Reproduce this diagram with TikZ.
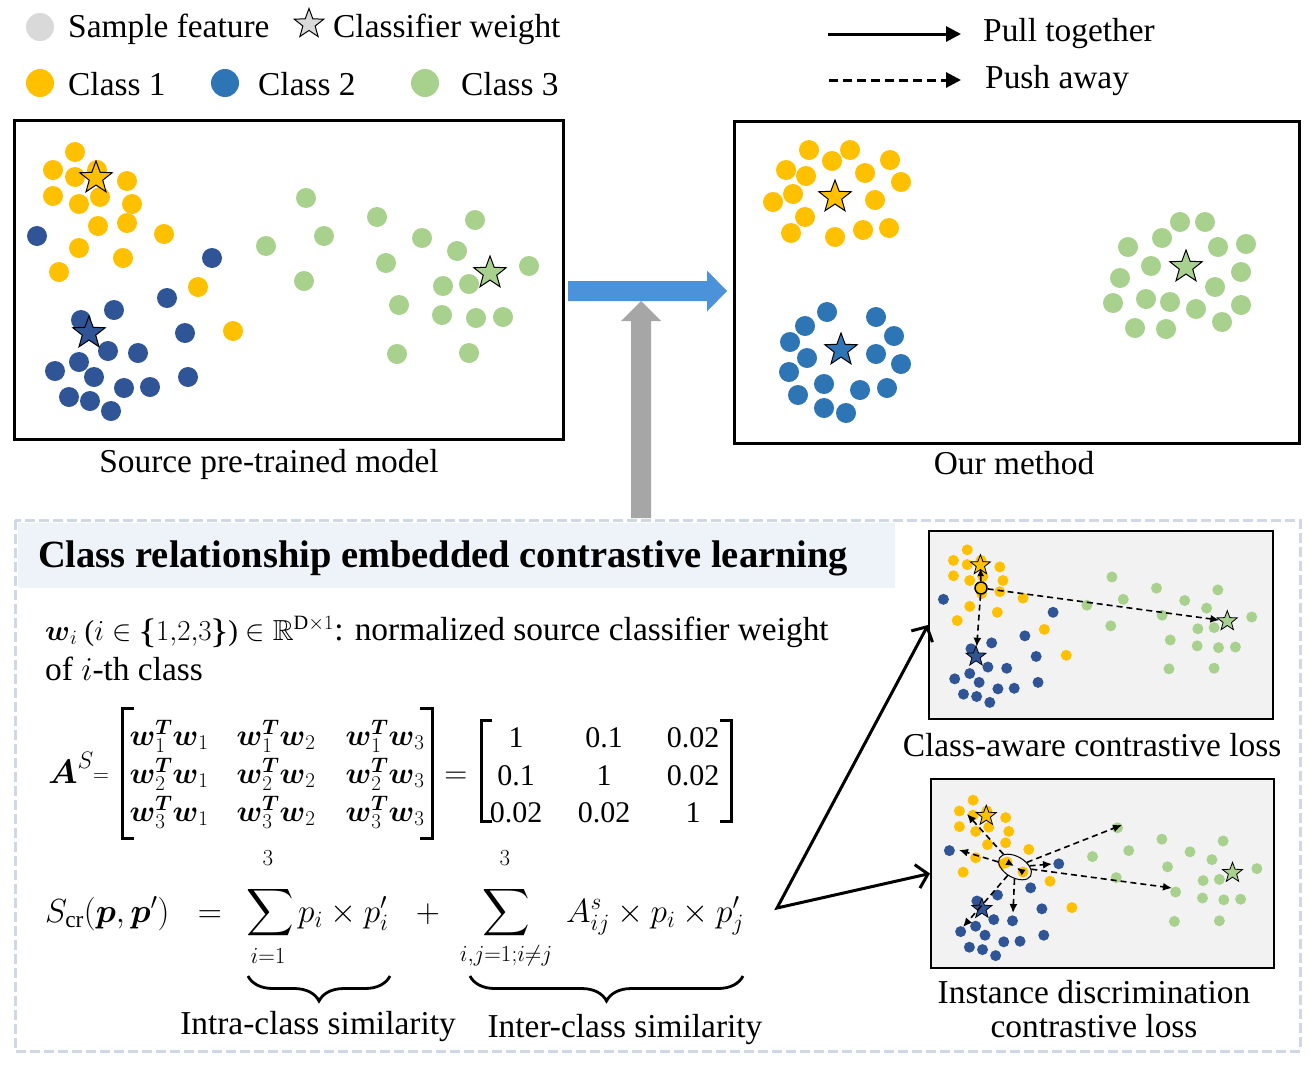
\RequirePackage{fix-cm}
\documentclass[tikz,border=0pt]{standalone}
\usepackage{amsmath,amssymb}
\usepackage{fontspec}
\setmainfont{Liberation Serif}
\usetikzlibrary{shapes.geometric,arrows.meta,decorations.pathreplacing}
\definecolor{cyel}{HTML}{FFC000}
\definecolor{cdblue}{HTML}{2F5597}
\definecolor{cblue}{HTML}{2E75B6}
\definecolor{cgreen}{HTML}{A9D18E}
\definecolor{cgray}{HTML}{D9D9D9}
\definecolor{cpanel}{HTML}{F2F2F2}
\definecolor{cband}{HTML}{EEF3F9}
\definecolor{cdash}{HTML}{CFD8E4}
\definecolor{carrowblue}{HTML}{4B92DB}
\definecolor{carrowgray}{HTML}{A6A6A6}
\tikzset{
  txt/.style={font=\fontsize{33.4}{40}\selectfont, inner sep=0pt},
  mtx/.style={font=\fontsize{30}{36}\selectfont, inner sep=0pt, anchor=base},
  lim/.style={font=\fontsize{23}{27}\selectfont, inner sep=0pt},
  bigdot/.style={circle, inner sep=0pt, minimum size=20pt, draw=none},
  smalldot/.style={circle, inner sep=0pt, minimum size=11pt, draw=none},
  bigstar/.style={star, star points=5, star point ratio=2.4, inner sep=0pt, minimum size=34pt, draw=black, line width=1pt},
  smallstar/.style={star, star points=5, star point ratio=2.4, inner sep=0pt, minimum size=21pt, draw=black, line width=0.8pt},
  frame/.style={draw=black, line width=3pt, fill=white, inner sep=0pt},
  panel/.style={draw=black, line width=2pt, fill=cpanel, inner sep=0pt},
  pullar/.style={line width=3pt, -{Triangle[length=15pt,width=15pt]}},
  pushar/.style={line width=3pt, dash pattern=on 9pt off 5pt, -{Triangle[length=15pt,width=15pt]}},
  pullsm/.style={line width=1.6pt, -{Latex[length=8pt,width=7pt]}},
  pushsm/.style={line width=1.6pt, dash pattern=on 6pt off 4pt, -{Latex[length=9pt,width=8pt]}},
  bracket/.style={line width=3pt},
  bracestyle/.style={line width=2.8pt, decorate, decoration={brace, mirror, amplitude=25pt}},
}
\newcommand\featcloud{%
  \foreach \x/\y [count=\i] in {75/152,53/170,75/177,97/170,127/181,53/196,79/204,100/197,132/204,98/226,127/223,164/234,79/248,123/258,59/272,198/287,233/331}
    {\node[k1] (y\i) at (\x,\y) {};}
  \foreach \x/\y [count=\i] in {37/236,212/258,167/298,114/310,81/320,185/333,108/351,138/353,79/362,55/371,94/377,188/377,124/388,150/387,69/397,90/401,111/411}
    {\node[k2] (b\i) at (\x,\y) {};}
  \foreach \x/\y [count=\i] in {306/198,377/217,475/220,324/236,266/246,422/238,457/251,386/263,529/266,304/281,443/286,469/284,399/305,442/315,476/318,503/317,397/354,469/353}
    {\node[k3] (g\i) at (\x,\y) {};}
  \node[q1] (wy) at (96,178) {};
  \node[q2] (wb) at (89,333) {};
  \node[q3] (wg) at (490,273) {};
}
\begin{document}
\begin{tikzpicture}[x=1pt,y=-1pt]
\useasboundingbox (0,0) rectangle (1311,1068);
\fill[white] (0,0) rectangle (1311,1068);

% ---------- legend ----------
\node[circle, fill=cgray, minimum size=28pt, inner sep=0pt] (lg0) at (40,27) {};
\node[txt, anchor=base west] (lgt0) at (68,37) {Sample feature};
\node[star, star points=5, star point ratio=2.4, inner sep=0pt, minimum size=31pt, draw=black, line width=1pt, fill=cgray] (lgs) at (309,24) {};
\node[txt, anchor=base west] (lgts) at (333,37) {Classifier weight};
\node[circle, fill=cyel, minimum size=28pt, inner sep=0pt] (lg1) at (40,83) {};
\node[txt, anchor=base west] (lgt1) at (68,95) {Class 1};
\node[circle, fill=cblue, minimum size=28pt, inner sep=0pt] (lg2) at (225,83) {};
\node[txt, anchor=base west] (lgt2) at (258,95) {Class 2};
\node[circle, fill=cgreen, minimum size=28pt, inner sep=0pt] (lg3) at (425,83) {};
\node[txt, anchor=base west] (lgt3) at (461,95) {Class 3};
\coordinate (pa1) at (828,34);
\coordinate (pa2) at (961,34);
\draw[pullar] (pa1) -- (pa2);
\node[txt, anchor=base west] (lgpull) at (983,41) {Pull together};
\coordinate (pb1) at (829,80);
\coordinate (pb2) at (961,80);
\draw[pushar] (pb1) -- (pb2);
\node[txt, anchor=base west] (lgpush) at (985,88) {Push away};

% ---------- top boxes ----------
\node[frame, minimum width=549pt, minimum height=319pt] (src) at (288.5,279.5) {};
\node[frame, minimum width=565pt, minimum height=322pt] (ours) at (1016.5,282) {};
\node[txt, anchor=base] (srccap) at (269,472) {Source pre-trained model};
\node[txt, anchor=base] (ourcap) at (1014,474) {Our method};

\begin{scope}[name prefix=L-,
  k1/.style={bigdot,fill=cyel}, k2/.style={bigdot,fill=cdblue}, k3/.style={bigdot,fill=cgreen},
  q1/.style={bigstar,fill=cyel}, q2/.style={bigstar,fill=cdblue}, q3/.style={bigstar,fill=cgreen}]
  \featcloud
\end{scope}

% right box clusters
\foreach \x/\y [count=\i] in {809/150,850/150,786/170,832/161,890/160,806/176,865/173,901/182,793/194,875/200,773/202,805/217,791/233,835/237,863/230,889/228}
  {\node[bigdot, fill=cyel] (R-y\i) at (\x,\y) {};}
\foreach \x/\y [count=\i] in {827/312,876/317,805/326,894/336,790/342,807/358,876/354,789/372,901/364,824/384,798/395,860/390,887/388,824/408,846/413}
  {\node[bigdot, fill=cblue] (R-b\i) at (\x,\y) {};}
\foreach \x/\y [count=\i] in {1180/222,1205/222,1162/238,1128/247,1218/247,1246/244,1151/266,1241/272,1120/278,1215/287,1113/303,1146/299,1170/302,1196/309,1241/305,1135/328,1166/329,1222/322}
  {\node[bigdot, fill=cgreen] (R-g\i) at (\x,\y) {};}
\node[bigstar, fill=cyel] (R-wy) at (835,197) {};
\node[bigstar, fill=cblue] (R-wb) at (841,350) {};
\node[bigstar, fill=cgreen] (R-wg) at (1186,267) {};

% big arrows
\fill[carrowblue] (568,281) -- (707,281) -- (707,270.5) -- (727,291) -- (707,311.5) -- (707,301) -- (568,301) -- cycle;

% ---------- lower panel ----------
\draw[cdash, line width=3pt, dash pattern=on 10pt off 4pt] (15,520) rectangle (1300,1051);
\fill[cband] (18,523) rectangle (895,588);
\fill[carrowgray] (631,518) -- (631,321) -- (621,321) -- (641,301) -- (661,321) -- (651,321) -- (651,518) -- cycle;

\node[anchor=base west, inner sep=0pt, font=\fontsize{38.5}{44}\selectfont\bfseries] (title) at (38,567) {Class relationship embedded contrastive learning};

\node[anchor=base west, inner sep=0pt, font=\fontsize{29}{34}\selectfont] (wdefm) at (45,640) {$\boldsymbol{w}_i$ ($i\in\boldsymbol{\{}1{,}2{,}3\boldsymbol{\}}$) $\in\mathbb{R}^{\mathrm{D}\times 1}$};
\node[txt, anchor=base west] (wdeft) at (wdefm.base east) {: normalized source classifier weight};
\node[txt, anchor=base west] (wdef2) at (45,680) {of $i$-th class};

% matrix A^S
\node[anchor=base, inner sep=0pt, font=\fontsize{34}{40}\selectfont] (As) at (71,783) {$\boldsymbol{A}^{S}$};
\node[anchor=base, inner sep=0pt, font=\fontsize{22}{26}\selectfont] (eqa) at (101,781) {$=$};
\draw[bracket] (134,708) -- (122,708) -- (122,838) -- (134,838);
\draw[bracket] (420,708) -- (432,708) -- (432,838) -- (420,838);
\node[mtx] (m11) at (169,745) {$\boldsymbol{w}_1^{\boldsymbol{T}}\boldsymbol{w}_1$};
\node[mtx] (m12) at (276,745) {$\boldsymbol{w}_1^{\boldsymbol{T}}\boldsymbol{w}_2$};
\node[mtx] (m13) at (385,745) {$\boldsymbol{w}_1^{\boldsymbol{T}}\boldsymbol{w}_3$};
\node[mtx] (m21) at (169,783) {$\boldsymbol{w}_2^{\boldsymbol{T}}\boldsymbol{w}_1$};
\node[mtx] (m22) at (276,783) {$\boldsymbol{w}_2^{\boldsymbol{T}}\boldsymbol{w}_2$};
\node[mtx] (m23) at (385,783) {$\boldsymbol{w}_2^{\boldsymbol{T}}\boldsymbol{w}_3$};
\node[mtx] (m31) at (169,821) {$\boldsymbol{w}_3^{\boldsymbol{T}}\boldsymbol{w}_1$};
\node[mtx] (m32) at (276,821) {$\boldsymbol{w}_3^{\boldsymbol{T}}\boldsymbol{w}_2$};
\node[mtx] (m33) at (385,821) {$\boldsymbol{w}_3^{\boldsymbol{T}}\boldsymbol{w}_3$};
\node[anchor=base, inner sep=0pt, font=\fontsize{32}{38}\selectfont] (eqb) at (456,783) {$=$};
\draw[bracket] (492,720) -- (481,720) -- (481,821) -- (492,821);
\draw[bracket] (720,720) -- (731,720) -- (731,821) -- (720,821);
\node[mtx] (n11) at (516,747) {1};
\node[mtx] (n12) at (604,747) {0.1};
\node[mtx] (n13) at (693,747) {0.02};
\node[mtx] (n21) at (516,785) {0.1};
\node[mtx] (n22) at (604,785) {1};
\node[mtx] (n23) at (693,785) {0.02};
\node[mtx] (n31) at (516,822) {0.02};
\node[mtx] (n32) at (604,822) {0.02};
\node[mtx] (n33) at (693,822) {1};

% S_cr formula
\node[txt, anchor=base west] (scr) at (45,922) {$S_{\mathrm{cr}}(\boldsymbol{p},\boldsymbol{p}')$};
\node[txt, anchor=base] (eqc) at (210,922) {$=$};
\node[inner sep=0pt, font=\fontsize{33}{38}\selectfont] (sig1) at (270,913) {$\displaystyle\sum$};
\node[lim] (sig1u) at (268,858) {$3$};
\node[lim] (sig1l) at (268,956) {$i{=}1$};
\node[txt, anchor=base west] (t1) at (298,922) {$p_i\times p'_i$};
\node[txt, anchor=base] (plus) at (428,922) {$+$};
\node[inner sep=0pt, font=\fontsize{33}{38}\selectfont] (sig2) at (506,913) {$\displaystyle\sum$};
\node[lim] (sig2u) at (505,858) {$3$};
\node[lim] (sig2l) at (506,956) {$i,\!j{=}1;\!i{\neq}j$};
\node[txt, anchor=base west] (t2) at (566,922) {$A^{s}_{ij}\times p_i\times p'_j$};

\coordinate (br1a) at (248,976);
\coordinate (br1b) at (390,976);
\coordinate (br2a) at (470,976);
\coordinate (br2b) at (743,976);
\draw[bracestyle] (br1a) -- (br1b);
\draw[bracestyle] (br2a) -- (br2b);
\node[txt, anchor=base] (intra) at (318,1034) {Intra-class similarity};
\node[txt, anchor=base] (inter) at (625,1037) {Inter-class similarity};

% small panels
\node[panel, minimum width=344pt, minimum height=188pt] (boxA) at (1101,625) {};
\node[panel, minimum width=343pt, minimum height=189pt] (boxB) at (1102.5,873.5) {};
\node[txt, anchor=base] (capA) at (1092,756) {Class-aware contrastive loss};
\node[txt, anchor=base] (capB1) at (1094,1003) {Instance discrimination};
\node[txt, anchor=base] (capB2) at (1094,1037) {contrastive loss};

\begin{scope}[name prefix=A-, shift={(929,531)}, xscale=0.6266, yscale=0.589, shift={(-14,-120)},
  k1/.style={smalldot,fill=cyel}, k2/.style={smalldot,fill=cdblue}, k3/.style={smalldot,fill=cgreen},
  q1/.style={smallstar,fill=cyel}, q2/.style={smallstar,fill=cdblue}, q3/.style={smallstar,fill=cgreen}]
  \featcloud
\end{scope}
\begin{scope}[name prefix=B-, shift={(935,781)}, xscale=0.625, yscale=0.6, shift={(-14,-120)},
  k1/.style={smalldot,fill=cyel}, k2/.style={smalldot,fill=cdblue}, k3/.style={smalldot,fill=cgreen},
  q1/.style={smallstar,fill=cyel}, q2/.style={smallstar,fill=cdblue}, q3/.style={smallstar,fill=cgreen}]
  \featcloud
\end{scope}

% class-aware arrows
\node[circle, draw=black, line width=1.5pt, fill=cyel, minimum size=12pt, inner sep=0pt] (anc) at (981,588) {};
\draw[pullsm, shorten >=3pt] (anc) -- (A-wy.center);
\draw[pushsm] (anc) -- (A-wb);
\draw[pushsm] (anc) -- (A-wg);

% instance discrimination arrows
\node[smalldot, fill=cyel] (e1) at (1007,862) {};
\node[smalldot, fill=cyel] (e2) at (1023,872) {};
\node[draw=black, ellipse, rotate=-30, minimum width=36pt, minimum height=21pt, inner sep=0pt, line width=1pt] (ell) at (1015,867) {};
\coordinate (m1) at (1014,866);
\coordinate (m2) at (1017,868);
\draw[pullsm] (e1) -- (m1);
\draw[pullsm] (e2) -- (m2);
\coordinate (t1) at (967,814);
\coordinate (t2) at (959,850);
\coordinate (t3) at (1122,825);
\coordinate (t4) at (1052,864);
\coordinate (t5) at (1172,888);
\coordinate (t6) at (1013,913);
\coordinate (t7) at (963,927);
\foreach \t in {t1,t2,t3,t4,t5,t6,t7} {\draw[pushsm] (ell) -- (\t);}

% fork arrows
\coordinate (fork) at (777,908);
\draw[line width=3pt, line join=miter, {Straight Barb[length=11pt,width=24pt]}-{Straight Barb[length=11pt,width=24pt]}] (boxA.west) -- (fork) -- (boxB.west);
\end{tikzpicture}
\end{document}
